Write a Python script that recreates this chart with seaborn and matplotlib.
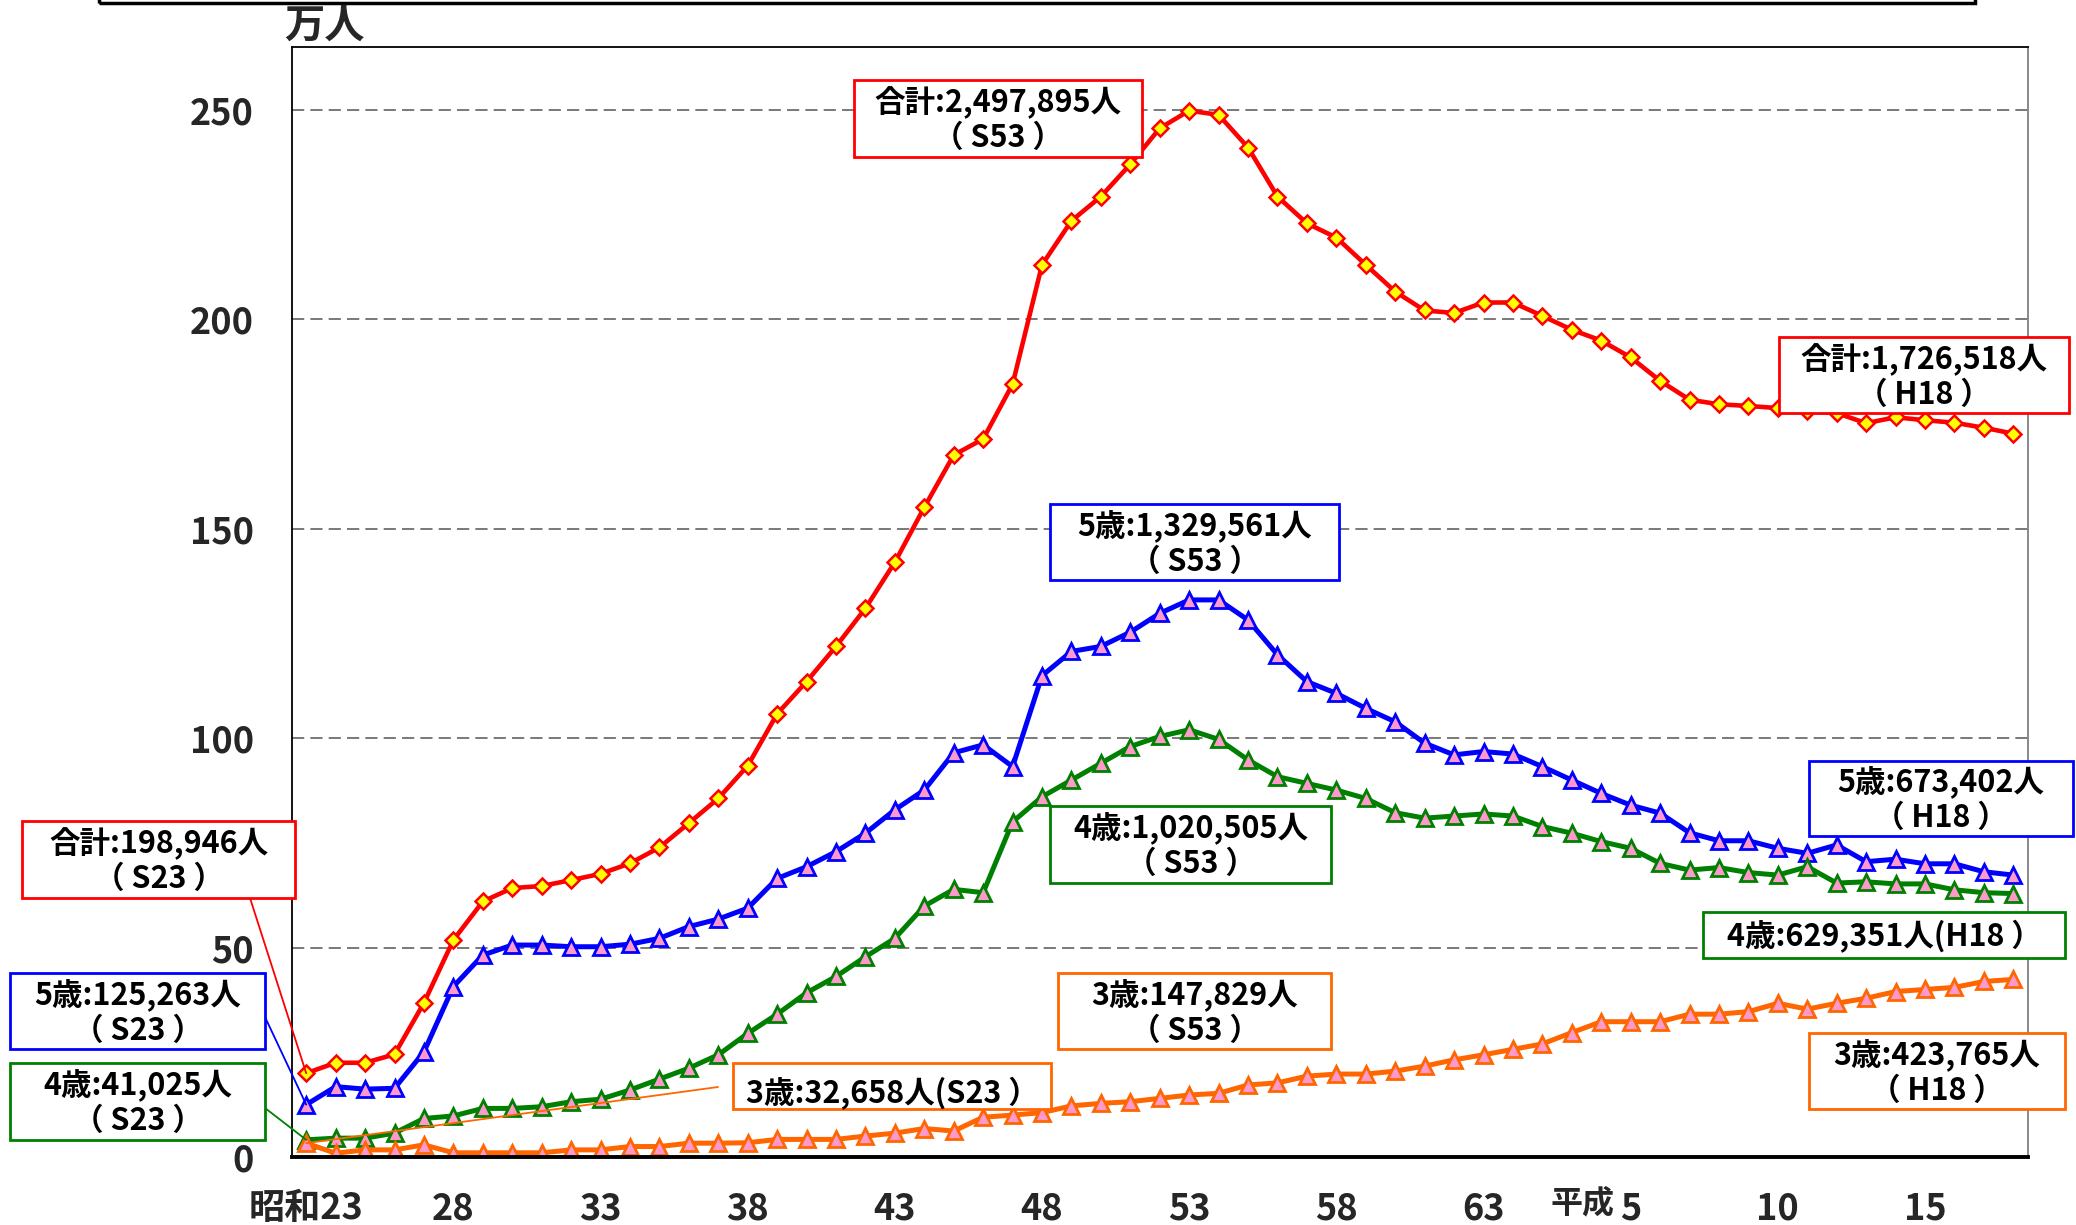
import numpy as np
import pandas as pd
import matplotlib
matplotlib.use("Agg")
import matplotlib.pyplot as plt
import seaborn as sns
from matplotlib.patches import Rectangle
from matplotlib.lines import Line2D

# ---------------- data (万人) ----------------
years = list(range(59))  # 昭和23 (1948) ... 平成18 (2006)
total = [20.0, 22.5, 22.5, 24.5, 36.8, 51.8, 61.0, 64.2, 64.7, 66.1, 67.6, 70.1, 73.9, 79.7,
         85.6, 93.4, 105.8, 113.5, 121.9, 131.0, 142.0, 155.1, 167.6, 171.4,
         184.5, 213.0, 223.5, 229.3, 237.0, 245.6, 249.8, 248.8, 241.0, 229.3, 222.9, 219.5, 213.0, 206.6,
         202.1, 201.5, 204.0, 204.0, 200.8, 197.5, 194.9, 190.9, 185.3, 180.8, 179.7, 179.3, 178.8,
         178.0, 177.6, 175.2, 176.6, 175.9, 175.3, 174.1, 172.7]
age5 = [12.5, 16.8, 16.2, 16.4, 25.1, 40.7, 48.2, 50.6, 50.6, 50.2, 50.2, 50.8, 52.2, 55.0,
        56.8, 59.4, 66.5, 69.3, 72.9, 77.3, 82.9, 87.6, 96.5, 98.4,
        93.2, 114.9, 120.7, 121.9, 125.3, 129.8, 133.0, 133.0, 128.2, 119.9, 113.5, 110.7, 107.1, 103.9,
        98.8, 96.0, 96.8, 96.2, 93.2, 90.0, 86.8, 84.0, 82.1, 77.4, 75.5, 75.5, 73.7,
        72.5, 74.5, 70.5, 71.1, 70.0, 70.0, 68.1, 67.3]
age4 = [4.1, 4.5, 4.5, 5.7, 9.2, 9.8, 11.6, 11.6, 12.0, 13.2, 13.8, 16.0, 18.6, 21.2,
        24.4, 29.5, 34.1, 39.2, 43.1, 47.8, 52.2, 59.9, 63.9, 63.1,
        80.0, 86.0, 90.0, 94.0, 98.0, 100.4, 102.0, 99.7, 94.8, 90.8, 89.2, 87.6, 85.6, 82.2,
        80.9, 81.4, 81.9, 81.4, 78.9, 77.3, 75.3, 73.7, 70.1, 68.5, 69.1, 67.9, 67.3,
        69.3, 65.4, 65.7, 65.2, 65.2, 63.8, 63.1, 62.9]
age3 = [3.3, 0.9, 1.7, 1.7, 2.9, 1.0, 1.0, 1.0, 1.0, 1.7, 1.7, 2.5, 2.5, 3.3,
        3.3, 3.4, 4.2, 4.2, 4.2, 5.0, 5.7, 6.8, 6.2, 9.5,
        10.0, 10.6, 12.2, 12.8, 13.2, 14.0, 14.8, 15.2, 17.2, 17.7, 19.3, 19.8, 19.8, 20.5,
        21.7, 23.2, 24.4, 25.7, 27.0, 29.7, 32.3, 32.3, 32.3, 34.1, 34.1, 34.7, 36.7,
        35.3, 36.7, 37.9, 39.5, 40.0, 40.5, 41.9, 42.4]
tick_pos = [0, 5, 10, 15, 20, 25, 30, 35, 40, 45, 50, 55]
tick_labels = ["昭和23", "28", "33", "38", "43", "48", "53", "58", "63", "5", "10", "15"]
y_ticks = [0, 50, 100, 150, 200, 250]

annotations = [
    ("合計:2,497,895人\n（ S53 ）", "#FF0000", (854, 80, 1142, 157), None),
    ("合計:1,726,518人\n（ H18 ）", "#FF0000", (1779, 337, 2069, 413), None),
    ("5歳:1,329,561人\n（ S53 ）", "#0000FF", (1050, 504, 1339, 580), None),
    ("4歳:1,020,505人\n（ S53 ）", "#008000", (1050, 806, 1331, 883), None),
    ("3歳:147,829人\n（ S53 ）", "#FF6600", (1058, 973, 1331, 1049), None),
    ("3歳:32,658人(S23 ）", "#FF6600", (733, 1063, 1051, 1109), 1094),
    ("5歳:673,402人\n（ H18 ）", "#0000FF", (1809, 761, 2073, 836), None),
    ("4歳:629,351人(H18 ）", "#008000", (1703, 912, 2065, 958), None),
    ("3歳:423,765人\n（ H18 ）", "#FF6600", (1809, 1033, 2065, 1109), None),
    ("合計:198,946人\n（ S23 ）", "#FF0000", (22, 821, 295, 898), None),
    ("5歳:125,263人\n（ S23 ）", "#0000FF", (10, 973, 265, 1049), None),
    ("4歳:41,025人\n（ S23 ）", "#008000", (10, 1063, 265, 1140), None),
]

# ---------------- style ----------------
sns.set_style("white")
plt.rcParams["font.family"] = ["Noto Sans CJK JP", "DejaVu Sans"]
plt.rcParams["font.weight"] = "bold"

W, H = 2076, 1225
fig = plt.figure(figsize=(W / 100, H / 100), dpi=100)
ax = fig.add_axes([291.5 / W, 1 - 1157 / H, (2028 - 291.5) / W, (1157 - 47) / H])


def fx(px):
    return px / W


def fy(py):
    return 1 - py / H


df = pd.DataFrame({
    "idx": years * 4,
    "value": total + age5 + age4 + age3,
    "series": ["合計"] * 59 + ["5歳"] * 59 + ["4歳"] * 59 + ["3歳"] * 59,
})

PINK = "#FF99CC"
styles = {
    "合計": dict(color="#FF0000", marker="D", markerfacecolor="#FFFF00", markeredgecolor="#FF0000",
               markersize=8, markeredgewidth=1.8, linewidth=3.3),
    "5歳": dict(color="#0000FF", marker="^", markerfacecolor=PINK, markeredgecolor="#0000FF",
               markersize=12, markeredgewidth=2, linewidth=3.6),
    "4歳": dict(color="#008000", marker="^", markerfacecolor=PINK, markeredgecolor="#008000",
               markersize=12, markeredgewidth=2, linewidth=3.6),
    "3歳": dict(color="#FF6600", marker="^", markerfacecolor=PINK, markeredgecolor="#FF6600",
               markersize=12, markeredgewidth=2, linewidth=3.6),
}
for name in ["合計", "5歳", "4歳", "3歳"]:
    sub = df[df["series"] == name]
    sns.lineplot(data=sub, x="idx", y="value", ax=ax, legend=False, **styles[name])

ax.set_xlim(-0.5, 58.5)
ax.set_ylim(0, 265)
ax.set_xlabel("")
ax.set_ylabel("")

# y axis
ax.set_yticks(y_ticks)
ax.set_yticklabels([str(v) for v in y_ticks], fontsize=26, fontweight="bold")
ax.tick_params(axis="y", length=0, pad=27)
ax.yaxis.grid(True, linestyle=(0, (8, 4)), color="#555555", linewidth=1.1)
ax.xaxis.grid(False)
ax.set_axisbelow(True)

# x axis: ticks at category boundaries, labels at selected years
ax.set_xticks(np.arange(-0.5, 59, 1))
ax.set_xticklabels([])
ax.tick_params(axis="x", which="major", direction="in", length=8, width=1.2, color="black")
ax.set_xticks(tick_pos, minor=True)
ax.set_xticklabels(tick_labels, minor=True, fontsize=26, fontweight="bold")
ax.tick_params(axis="x", which="minor", length=0, pad=24)
trans = matplotlib.transforms.blended_transform_factory(ax.transData, ax.transAxes)
ax.text(44.45, -0.042, "平成", transform=trans, ha="right", va="center",
        fontsize=23, fontweight="bold")

for s in ["left", "top"]:
    ax.spines[s].set_color("black")
    ax.spines[s].set_linewidth(1.3)
ax.spines["bottom"].set_color("black")
ax.spines["bottom"].set_linewidth(2.8)
ax.spines["right"].set_color("#808080")
ax.spines["right"].set_linewidth(1.3)

# unit label
fig.text(fx(324), fy(26), "万人", ha="center", va="center", fontsize=29, fontweight="bold")

# cut-off title box at the top
fig.add_artist(Rectangle((fx(99), fy(3)), fx(1975) - fx(99), 0.05, transform=fig.transFigure,
                         fill=False, edgecolor="black", linewidth=2.5))

# leader lines from left boxes to first points
def data_to_fig(x, y):
    p = ax.transData.transform((x, y))
    return fig.transFigure.inverted().transform(p)

leaders = [((250, 898), total[0], "#FF0000"),
           ((265, 1017), age5[0], "#0000FF"),
           ((265, 1108), age4[0], "#008000"),
           ((718, 1087), age3[0], "#FF6600")]
for (px, py), yv, col in leaders:
    ex, ey = data_to_fig(0, yv)
    fig.add_artist(Line2D([fx(px), ex], [fy(py), ey], transform=fig.transFigure,
                          color=col, linewidth=1.3))

# annotation boxes
for text, col, (x0, y0, x1, y1), ty in annotations:
    fig.add_artist(Rectangle((fx(x0), fy(y1)), fx(x1) - fx(x0), fy(y0) - fy(y1),
                             transform=fig.transFigure, facecolor="white",
                             edgecolor=col, linewidth=2, zorder=5))
    cy = ty if ty is not None else (y0 + y1) / 2 + 2
    fig.text(fx((x0 + x1) / 2), fy(cy), text, ha="center", va="center", fontsize=22,
             fontweight="bold", linespacing=1.12, zorder=6, color="black")

fig.savefig("out.png", dpi=100)
